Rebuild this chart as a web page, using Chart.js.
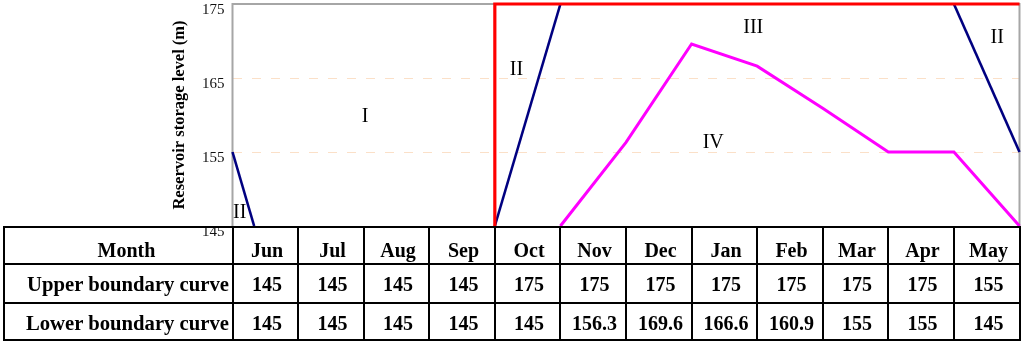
<!DOCTYPE html>
<html>
<head>
<meta charset="utf-8">
<script src="https://cdn.jsdelivr.net/npm/chart.js@4/dist/chart.umd.min.js"></script>
<style>
  html, body { margin: 0; padding: 0; background: #fff; }
  #wrap { position: relative; width: 1024px; height: 345px; overflow: hidden; }
  #c { position: absolute; left: 0; top: 0; }
  #tbl { position: absolute; left: 0; top: 0; width: 1024px; height: 345px; }
  .cell { position: absolute; box-sizing: border-box; border: 2px solid #000; display: flex;
          align-items: center; justify-content: center; font-family: "Liberation Serif", "Times New Roman", serif;
          font-weight: bold; font-size: 20px; color: #000; white-space: nowrap; background: transparent; }
</style>
</head>
<body>
<div id="wrap">
  <canvas id="c" width="1024" height="345"></canvas>
  <div id="tbl"></div>
</div>
<script>
// ---- data ----
const months = ['Jun','Jul','Aug','Sep','Oct','Nov','Dec','Jan','Feb','Mar','Apr','May'];
const upperBoundary = [145,145,145,145,175,175,175,175,175,175,175,155];
const lowerBoundary = [145,145,145,145,145,156.3,169.6,166.6,160.9,155,155,145];
const rowLabels = ['Month','Upper boundary curve','Lower boundary curve'];
const yTicks = [145,155,165,175];
// time axis: 0 = start of Jun, 12 = end of May
const floodLimitX = [4,4,12];
const floodLimitY = [145,175,175];
const zoneIIX = [0,0.33,4,5,11,12];
const zoneIIY = [155,145,145,175,175,155];
const regionText = ['I','II','II','III','IV','II'];
const regionX = [2.02,0.11,4.33,7.94,7.33,11.66];
const regionY = [159.7,146.8,166.1,171.8,156.3,170.5];

const Y_MIN = 145, Y_MAX = 175;
const hideFlat = (ctx) => {
  const a = ctx.p0.parsed.y, b = ctx.p1.parsed.y;
  return (a === b && (a === Y_MIN || a === Y_MAX)) ? 'rgba(0,0,0,0)' : undefined;
};

const lowerPts = [{x:0, y:lowerBoundary[11]}].concat(lowerBoundary.map((v,i)=>({x:i+1, y:v})));
const zoneIIPts = zoneIIX.map((x,i)=>({x:x, y:zoneIIY[i]}));
const floodPts = floodLimitX.map((x,i)=>({x:x, y:floodLimitY[i]}));

const framePlugin = {
  id: 'frame',
  beforeDatasetsDraw(chart) {
    const {ctx, chartArea: a} = chart;
    ctx.save();
    ctx.strokeStyle = '#a6a6a6';
    ctx.lineWidth = 2;
    ctx.beginPath();
    ctx.moveTo(a.left, a.bottom);
    ctx.lineTo(a.left, a.top);
    ctx.lineTo(a.right, a.top);
    ctx.lineTo(a.right, a.bottom);
    ctx.stroke();
    ctx.restore();
  },
  afterDatasetsDraw(chart) {
    const {ctx, scales: {x, y}} = chart;
    ctx.save();
    ctx.fillStyle = '#000';
    ctx.font = '20px "Liberation Serif", serif';
    ctx.textAlign = 'center';
    ctx.textBaseline = 'middle';
    regionText.forEach((t,i)=>{
      ctx.fillText(t, x.getPixelForValue(regionX[i]), y.getPixelForValue(regionY[i]));
    });
    ctx.restore();
  }
};

const chart = new Chart(document.getElementById('c'), {
  type: 'line',
  data: {
    datasets: [
      { data: floodPts, borderColor: '#ff0000', borderWidth: 3.2, pointRadius: 0, order: 0, clip: 6 },
      { data: zoneIIPts, borderColor: '#000080', borderWidth: 2.6, pointRadius: 0, order: 1, clip: 6,
        segment: { borderColor: hideFlat } },
      { data: lowerPts, borderColor: '#ff00ff', borderWidth: 3, pointRadius: 0, order: 2, clip: 6,
        segment: { borderColor: hideFlat } }
    ]
  },
  options: {
    responsive: false,
    animation: false,
    events: [],
    layout: { autoPadding: false, padding: { left: 166, right: 4.5, top: 4, bottom: 119 } },
    plugins: { legend: { display: false }, tooltip: { enabled: false } },
    scales: {
      x: { type: 'linear', min: 0, max: 12, display: false },
      y: {
        type: 'linear', min: Y_MIN, max: Y_MAX,
        afterBuildTicks: (s) => { s.ticks = yTicks.map(v=>({value:v})); },
        afterFit: (s) => { s.width = 66.5; s.paddingTop = 0; s.paddingBottom = 0; },
        border: { display: false, dash: [9,10] },
        grid: {
          drawTicks: false,
          lineWidth: 1,
          color: (c) => (c.tick && (c.tick.value === Y_MIN || c.tick.value === Y_MAX)) ? 'rgba(0,0,0,0)' : '#fbe0c8'
        },
        ticks: {
          padding: 8, labelOffset: 6, color: '#111',
          font: { family: '"Liberation Serif", serif', size: 15 }
        },
        title: {
          display: true, text: 'Reservoir storage level (m)', color: '#000',
          font: { family: '"Liberation Serif", serif', size: 16.5, weight: 'bold' },
          padding: { top: 4, bottom: 4 }
        }
      }
    }
  },
  plugins: [framePlugin]
});

// ---- table built from the same arrays, aligned to the x scale ----
(function buildTable(){
  const xs = chart.scales.x;
  const colEdges = [4].concat(months.map((m,i)=>Math.round(xs.getPixelForValue(i))), [Math.round(xs.getPixelForValue(12))]);
  const rowEdges = [Math.round(chart.chartArea.bottom + 0.5), 264, 303, 340];
  const rows = [
    [rowLabels[0]].concat(months),
    [rowLabels[1]].concat(upperBoundary.map(String)),
    [rowLabels[2]].concat(lowerBoundary.map(String))
  ];
  const rowPadTop = [9, 2, 3];
  const host = document.getElementById('tbl');
  rows.forEach((row, r) => {
    row.forEach((txt, c) => {
      const d = document.createElement('div');
      d.className = 'cell';
      d.textContent = txt;
      d.style.left = (colEdges[c] - 1) + 'px';
      d.style.width = (colEdges[c+1] - colEdges[c] + 2) + 'px';
      d.style.top = (rowEdges[r] - 1) + 'px';
      d.style.height = (rowEdges[r+1] - rowEdges[r] + 2) + 'px';
      d.style.paddingTop = rowPadTop[r] + 'px';
      if (c === 0) {
        if (r === 0) { d.style.paddingLeft = '16px'; }
        else { d.style.justifyContent = 'flex-end'; d.style.paddingRight = '3px'; d.style.fontSize = '20.7px'; }
      } else {
        d.style.paddingLeft = '3px';
      }
      host.appendChild(d);
    });
  });
})();
</script>
</body>
</html>
